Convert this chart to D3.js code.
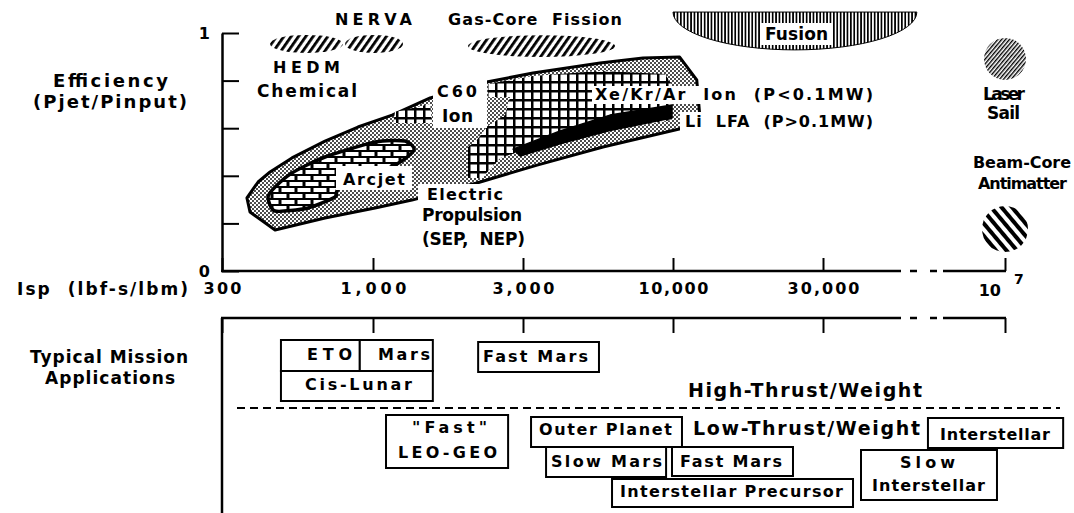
<!DOCTYPE html>
<html><head><meta charset="utf-8">
<script src="https://cdn.jsdelivr.net/npm/d3@7/dist/d3.min.js"></script>
<style>
html,body{margin:0;padding:0;background:#fff;overflow:hidden}
svg{display:block}
.lbl{font-family:"DejaVu Sans","Liberation Sans",Arial,sans-serif;font-weight:bold;fill:#000;white-space:pre}
</style></head><body>
<svg id="chart" width="1074" height="513" viewBox="0 0 1074 513"></svg>
<script>
// ===================== DATA =====================
const ispTicks = [300, 1000, 3000, 10000, 30000, 1e7];
const ispTickLabels = ["300", "1,000", "3,000", "10,000", "30,000", "10"];
const effTicks = [0, 0.2, 0.4, 0.6, 0.8, 1];
const effTickLabels = ["0", "", "", "", "", "1"];

// Electric propulsion envelope (SEP, NEP)
const epIsp = [366, 400, 440, 524, 682, 887, 1150, 1520, 2300, 3250, 5570, 7860, 10500, 11900, 12200, 10800, 5700, 3360, 2140, 1330, 1015, 682, 458, 375];
const epEff = [0.307, 0.374, 0.416, 0.475, 0.546, 0.605, 0.655, 0.727, 0.794, 0.832, 0.874, 0.895, 0.899, 0.803, 0.634, 0.601, 0.521, 0.445, 0.370, 0.298, 0.265, 0.223, 0.172, 0.248];
// Arcjet
const arcjetIsp = [433, 458, 524, 682, 1015, 1264, 1350, 1175, 769, 739, 596, 458];
const arcjetEff = [0.311, 0.353, 0.412, 0.479, 0.542, 0.546, 0.508, 0.445, 0.349, 0.311, 0.265, 0.252];
// Xe/Kr/Ar ion
const ionIsp = [2005, 2005, 2140, 2300, 2630, 2730, 2320, 2320, 3250, 5570, 9380, 9920, 9920, 6030, 4040, 2830, 2540, 2220];
const ionEff = [0.391, 0.521, 0.550, 0.605, 0.655, 0.731, 0.731, 0.786, 0.819, 0.840, 0.828, 0.782, 0.634, 0.592, 0.550, 0.496, 0.475, 0.391];
// C60 ion
const c60Isp = [1160, 1175, 1520, 1540];
const c60Eff = [0.622, 0.668, 0.702, 0.622];
// Li LFA
const lfaIsp = [2790, 4040, 6030, 9920, 9920, 6030, 4040, 2940];
const lfaEff = [0.512, 0.588, 0.655, 0.697, 0.643, 0.590, 0.535, 0.483];
// Chemical / nuclear thermal blobs
const blobNames = ["HEDM Chemical", "NERVA", "Gas-Core Fission"];
const blobIspLo = [440, 800, 2005];
const blobIspHi = [787, 1246, 6280];
const blobEffMid = [0.954, 0.954, 0.945];
const blobEffHalf = [0.038, 0.038, 0.046];
// Fusion
const fusionIsp = [10000, 600000];
const fusionEff = [0.929, 1.088];
// Laser sail / antimatter
const pointNames = ["Laser Sail", "Beam-Core Antimatter"];
const pointIsp = [1e7, 1e7];
const pointEff = [0.891, 0.176];
// Typical mission applications
const missionNames = [["ETO"], ["Mars"], ["Cis-Lunar"], ["Fast Mars"], ["\"Fast\"", "LEO-GEO"], ["Outer Planet"], ["Slow Mars"], ["Fast Mars"], ["Interstellar Precursor"], ["Slow", "Interstellar"], ["Interstellar"]];
const missionIspLo = [480, 900, 480, 2160, 1100, 3200, 3610, 9920, 6130, 100900, 855000];
const missionIspHi = [900, 1550, 1550, 5520, 2690, 10680, 9460, 24080, 78200, 7.74e6, 6.4e7];

// ===================== LAYOUT =====================
const svg = d3.select("#chart");
const defs = svg.append("defs");
const x = d3.scaleLog().domain(ispTicks).range([222, 373, 523, 673, 823, 1005]);
const y = d3.scaleLinear().domain([0, 1]).range([271, 33]);
const botTop = 318, botBottom = 513;
const breakSegs = [[901, 910], [917, 930], [937, 943]]; // gaps of broken axis

function pattern(id, w, h, build, tf) {
  const p = defs.append("pattern").attr("id", id).attr("patternUnits", "userSpaceOnUse")
    .attr("width", w).attr("height", h);
  if (tf) p.attr("patternTransform", tf);
  build(p);
}
pattern("stipple", 4, 4, p => {
  p.append("rect").attr("width", 4).attr("height", 4).attr("fill", "#fff");
  p.append("circle").attr("cx", 1).attr("cy", 1).attr("r", 0.95);
  p.append("circle").attr("cx", 3).attr("cy", 3).attr("r", 0.95);
});
pattern("brick", 16, 12, p => {
  p.append("rect").attr("width", 16).attr("height", 12).attr("fill", "#000");
  [[1.5, 2], [-6.5, 8], [9.5, 8]].forEach(([a, b]) =>
    p.append("rect").attr("x", a).attr("y", b).attr("width", 13).attr("height", 4).attr("fill", "#fff"));
});
pattern("grid", 9, 9, p => {
  p.append("rect").attr("width", 9).attr("height", 9).attr("fill", "#000");
  p.append("rect").attr("x", 2.5).attr("y", 2.5).attr("width", 6.5).attr("height", 6.5).attr("fill", "#fff");
});
pattern("hatch", 6, 6, p => {
  p.append("rect").attr("width", 6).attr("height", 6).attr("fill", "#fff");
  p.append("rect").attr("width", 2.8).attr("height", 6).attr("fill", "#000");
}, "rotate(35)");
pattern("hatchFine", 3, 3, p => {
  p.append("rect").attr("width", 3).attr("height", 3).attr("fill", "#fff");
  p.append("rect").attr("width", 1.4).attr("height", 3).attr("fill", "#000");
}, "rotate(40)");
pattern("hatchBold", 8, 8, p => {
  p.append("rect").attr("width", 8).attr("height", 8).attr("fill", "#fff");
  p.append("rect").attr("width", 4).attr("height", 8).attr("fill", "#000");
}, "rotate(-40)");
pattern("vert", 3.4, 3, p => {
  p.append("rect").attr("width", 3.4).attr("height", 3).attr("fill", "#fff");
  p.append("rect").attr("width", 1.7).attr("height", 3).attr("fill", "#000");
});

function label(g, str, x0, x1, base, size) {
  return g.append("text").attr("class", "lbl").attr("x", x0).attr("y", base)
    .attr("font-size", size || 16).attr("textLength", x1 - x0).attr("lengthAdjust", "spacing").text(str);
}
function whiteBox(g, x0, y0, x1, y1) {
  g.append("rect").attr("x", x0).attr("y", y0).attr("width", x1 - x0).attr("height", y1 - y0).attr("fill", "#fff");
}

const line = d3.line().x(d => x(d[0])).y(d => y(d[1])).curve(d3.curveLinearClosed);
const plot = svg.append("g");

// EP envelope
plot.append("path").datum(d3.zip(epIsp, epEff)).attr("d", line)
  .attr("fill", "url(#stipple)").attr("stroke", "#000").attr("stroke-width", 3).attr("stroke-linejoin", "round");
// Ion grid regions
plot.append("path").datum(d3.zip(ionIsp, ionEff)).attr("d", line).attr("fill", "url(#grid)");
plot.append("path").datum(d3.zip(c60Isp, c60Eff)).attr("d", line).attr("fill", "url(#grid)");
// Li LFA band
plot.append("path").datum(d3.zip(lfaIsp, lfaEff)).attr("d", line).attr("fill", "#000")
  .attr("stroke", "#000").attr("stroke-width", 1.5).attr("stroke-linejoin", "round");
// Arcjet
plot.append("path").datum(d3.zip(arcjetIsp, arcjetEff)).attr("d", d3.line().x(d => x(d[0])).y(d => y(d[1])).curve(d3.curveCardinalClosed.tension(0.3)))
  .attr("fill", "url(#brick)").attr("stroke", "#000").attr("stroke-width", 3.5);

// hatched blobs
blobNames.forEach((n, i) => {
  const x0 = x(blobIspLo[i]), x1 = x(blobIspHi[i]);
  plot.append("ellipse").attr("cx", (x0 + x1) / 2).attr("cy", y(blobEffMid[i]))
    .attr("rx", (x1 - x0) / 2).attr("ry", y(blobEffMid[i] - blobEffHalf[i]) - y(blobEffMid[i]))
    .attr("fill", "url(#hatch)");
});
// Fusion bowl
{
  const x0 = x(fusionIsp[0]), x1 = x(fusionIsp[1]), yt = y(fusionEff[1]), yb = y(fusionEff[0]);
  plot.append("path").attr("d", `M${x0},${yt}L${x1},${yt}A${(x1 - x0) / 2},${yb - yt} 0 0 1 ${x0},${yt}Z`)
    .attr("fill", "url(#vert)").attr("stroke", "#000").attr("stroke-width", 1);
}
// Laser sail & antimatter
const pointR = [21, 23], pointFill = ["url(#hatchFine)", "url(#hatchBold)"];
pointNames.forEach((n, i) => {
  plot.append("circle").attr("cx", x(pointIsp[i])).attr("cy", y(pointEff[i])).attr("r", pointR[i]).attr("fill", pointFill[i]);
});

// text backgrounds & labels (top panel)
const tl = svg.append("g");
whiteBox(tl, 433, 80, 487, 128);     // C60 Ion
whiteBox(tl, 336, 166, 412, 190);    // Arcjet
whiteBox(tl, 418, 184, 510, 204);    // Electric
whiteBox(tl, 592, 86, 876, 104);     // Xe/Kr/Ar
whiteBox(tl, 680, 112, 876, 131);    // Li LFA
whiteBox(tl, 760, 23, 832, 45);      // Fusion
[
  ["NERVA", 335, 412, 25, 16], ["Gas-Core  Fission", 448, 622, 25, 16],
  ["HEDM", 273, 340, 73, 16], ["Chemical", 257, 357, 97, 17],
  ["C60", 437, 477, 97, 16], ["Ion", 442, 473, 122, 17],
  ["Arcjet", 343, 405, 185, 16], ["Electric", 427, 503, 200, 16],
  ["Propulsion", 422, 522, 221, 17], ["(SEP,  NEP)", 422, 525, 245, 17],
  ["Xe/Kr/Ar  Ion  (P<0.1MW)", 595, 873, 100, 16], ["Li  LFA  (P>0.1MW)", 685, 873, 127, 16],
  ["Fusion", 765, 828, 40, 17],
  ["Laser", 983, 1025, 100, 17], ["Sail", 987, 1020, 119, 17],
  ["Beam-Core", 973, 1071, 168, 16], ["Antimatter", 978, 1067, 189, 16],
  ["Efficiency", 53, 168, 87, 18], ["(Pjet/Pinput)", 33, 187, 108, 18],
  ["Isp  (lbf-s/lbm)", 17, 188, 295, 17],
  ["Typical Mission", 30, 188, 363, 17], ["Applications", 45, 175, 384, 17]
].forEach(d => label(tl, d[0], d[1], d[2], d[3], d[4]));

// ===================== AXES =====================
const yAx = svg.append("g").attr("transform", `translate(${x(300)},0)`)
  .call(d3.axisLeft(y).tickValues(effTicks).tickFormat((d, i) => effTickLabels[i]).tickSizeInner(-17).tickSizeOuter(0).tickPadding(12));
yAx.select(".domain").attr("stroke-width", 2.5);
yAx.selectAll(".tick line").attr("stroke-width", 2);
yAx.selectAll(".tick text").attr("class", "lbl").attr("font-size", 16).attr("font-family", null).attr("dy", "0.36em");

const lblW = [38, 66, 62, 70, 72];
const xAx = svg.append("g").attr("transform", `translate(0,${y(0)})`)
  .call(d3.axisBottom(x).tickValues(ispTicks).tickFormat((d, i) => i < 5 ? ispTickLabels[i] : "").tickSizeInner(-13).tickSizeOuter(0).tickPadding(12));
xAx.select(".domain").remove();
xAx.selectAll(".tick line").attr("stroke-width", 2);
xAx.selectAll(".tick text").attr("class", "lbl").attr("font-size", 16).attr("font-family", null)
  .attr("textLength", (d, i) => lblW[i] || null).attr("lengthAdjust", "spacing");
svg.append("text").attr("class", "lbl").attr("font-size", 16).attr("text-anchor", "end")
  .attr("x", x(1e7) - 4).attr("y", 296).text(ispTickLabels[5]);
svg.append("text").attr("class", "lbl").attr("font-size", 14).attr("x", x(1e7) + 9).attr("y", 284).text("7");

const bAx = svg.append("g").attr("transform", `translate(0,${botTop})`)
  .call(d3.axisTop(x).tickValues(ispTicks).tickFormat("").tickSizeInner(-15).tickSizeOuter(0));
bAx.select(".domain").remove();
bAx.selectAll(".tick line").attr("stroke-width", 2);

function brokenLine(yy) {
  const pts = [[x(300) - 1, breakSegs[0][0]], [breakSegs[0][1], breakSegs[1][0]], [breakSegs[1][1], breakSegs[2][0]], [breakSegs[2][1], x(1e7) + 1]];
  pts.forEach(([a, b]) => svg.append("line").attr("x1", a).attr("x2", b).attr("y1", yy).attr("y2", yy).attr("stroke", "#000").attr("stroke-width", 2.5));
}
brokenLine(y(0));
brokenLine(botTop);
svg.append("line").attr("x1", x(300)).attr("x2", x(300)).attr("y1", botTop).attr("y2", botBottom).attr("stroke", "#000").attr("stroke-width", 2.5);

// ===================== MISSIONS =====================
const missionRowY = [[340, 371], [340, 371], [371, 401], [342, 372], [415, 468], [417, 447], [447, 477], [447, 476], [479, 507], [450, 500], [418, 448]];
const missionText = [
  [[307, 352, 360]], [[378, 430, 360]], [[305, 412, 390]], [[483, 588, 362]],
  [[412, 487, 433], [398, 497, 458]], [[539, 672, 435]], [[551, 662, 467]], [[680, 782, 467]],
  [[620, 843, 497]], [[900, 955, 468], [872, 985, 491]], [[940, 1050, 440]]
];
const mg = svg.append("g");
mg.append("line").attr("x1", 237).attr("x2", 1060).attr("y1", 408).attr("y2", 408)
  .attr("stroke", "#000").attr("stroke-width", 2).attr("stroke-dasharray", "8,5");
label(mg, "High-Thrust/Weight", 688, 922, 397, 19);
label(mg, "Low-Thrust/Weight", 693, 920, 435, 19);
missionNames.forEach((lines, i) => {
  const x0 = x(missionIspLo[i]), x1 = x(missionIspHi[i]);
  const [t, b] = missionRowY[i];
  mg.append("rect").attr("x", x0).attr("y", t).attr("width", x1 - x0).attr("height", b - t)
    .attr("fill", "#fff").attr("stroke", "#000").attr("stroke-width", 2);
  lines.forEach((s, j) => {
    const [a, c, base] = missionText[i][j];
    label(mg, s, a, c, base, 16);
  });
});
</script>
</body></html>
